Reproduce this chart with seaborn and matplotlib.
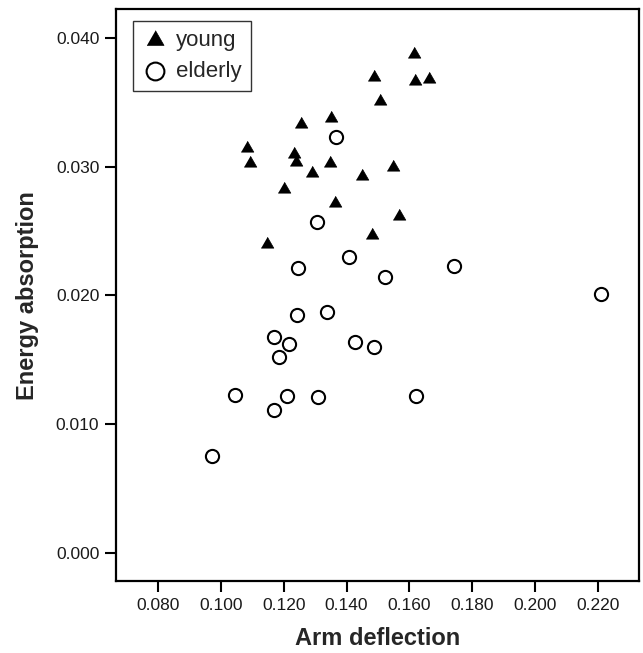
import numpy as np
import pandas as pd
import matplotlib
matplotlib.use('Agg')
import matplotlib.pyplot as plt
import seaborn as sns

# values
young_deflection = [0.1615, 0.1487, 0.1619, 0.1663, 0.1506, 0.1349, 0.1255, 0.1082,
                    0.1092, 0.1233, 0.1238, 0.1347, 0.1547, 0.1291, 0.1449, 0.1201,
                    0.1364, 0.1566, 0.1481, 0.1147]
young_energy = [0.0388, 0.0370, 0.0367, 0.0368, 0.0351, 0.0338, 0.0333, 0.0315,
                0.0303, 0.0310, 0.0304, 0.0303, 0.0300, 0.0295, 0.0293, 0.0283,
                0.0272, 0.0262, 0.0247, 0.0240]
elderly_deflection = [0.1366, 0.1306, 0.1409, 0.1246, 0.1522, 0.1742, 0.2212, 0.1243,
                      0.1339, 0.1168, 0.1216, 0.1185, 0.1427, 0.1487, 0.1044, 0.1210,
                      0.1310, 0.1621, 0.1169, 0.0971]
elderly_energy = [0.0323, 0.0257, 0.0230, 0.0221, 0.0214, 0.0223, 0.0201, 0.0185,
                  0.0187, 0.0168, 0.0162, 0.0152, 0.0164, 0.0160, 0.0123, 0.0122,
                  0.0121, 0.0122, 0.0111, 0.0075]

x_ticks = [0.080, 0.100, 0.120, 0.140, 0.160, 0.180, 0.200, 0.220]
y_ticks = [0.000, 0.010, 0.020, 0.030, 0.040]

young = pd.DataFrame({'deflection': young_deflection, 'energy': young_energy})
elderly = pd.DataFrame({'deflection': elderly_deflection, 'energy': elderly_energy})

sns.set_style('ticks')
plt.rcParams['font.family'] = ['Liberation Sans', 'DejaVu Sans']

fig = plt.figure(figsize=(6.43, 6.53), dpi=100)
ax = fig.add_axes([0.1804, 0.1103, 0.8134, 0.8752])

# equilateral triangle marker
tri = [(-1, -0.577), (1, -0.577), (0, 1.155)]

sns.scatterplot(data=young, x='deflection', y='energy', marker=tri, s=110,
                color='black', edgecolor='black', linewidth=0.5, label='young', ax=ax)
sns.scatterplot(data=elderly, x='deflection', y='energy', marker='o', s=90,
                color='white', edgecolor='black', linewidth=1.5, label='elderly', ax=ax)

ax.set_xlim(0.0665, 0.2332)
ax.set_ylim(-0.0022, 0.04224)
ax.set_xticks(x_ticks)
ax.set_yticks(y_ticks)
ax.set_xticklabels([f'{v:.3f}' for v in x_ticks])
ax.set_yticklabels([f'{v:.3f}' for v in y_ticks])
ax.tick_params(axis='both', direction='out', length=8, width=1.5, labelsize=12.5,
               pad=4, color='black', labelcolor='#1a1a1a')

for sp in ax.spines.values():
    sp.set_visible(True)
    sp.set_linewidth(1.6)
    sp.set_color('black')

ax.set_xlabel('Arm deflection', fontsize=17, fontweight='bold', labelpad=10)
ax.set_ylabel('Energy absorption', fontsize=17, fontweight='bold', labelpad=12)

leg = ax.legend(loc='upper left', bbox_to_anchor=(0.0325, 0.980), borderaxespad=0,
                fontsize=16, frameon=True, fancybox=False, edgecolor='black',
                markerscale=1.35, handletextpad=0.35, borderpad=0.4,
                labelspacing=0.45, handlelength=1.2)
leg.get_frame().set_linewidth(1.0)

fig.savefig('out.png', dpi=100, facecolor='white')
